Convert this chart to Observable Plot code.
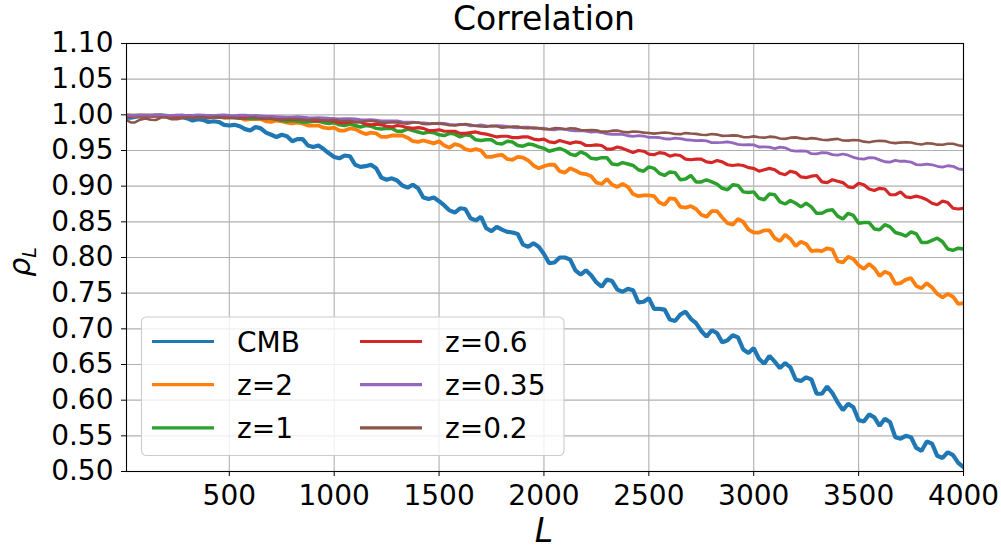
<!DOCTYPE html>
<html><head><meta charset="utf-8">
<script src="https://cdn.jsdelivr.net/npm/d3@7"></script>
<script src="https://cdn.jsdelivr.net/npm/@observablehq/plot@0.6"></script>
<style>
body{margin:0;background:#fff;}
#chart{width:1001px;height:550px;position:relative;}
</style>
</head><body><div id="chart"></div>
<script>
// Multipole L (sampled every 25)
const L = [10,30,50,75,100,125,150,175,200,225,250,275,300,325,350,375,400,425,450,475,
500,525,550,575,600,625,650,675,700,725,750,775,800,825,850,875,900,925,950,975,
1000,1025,1050,1075,1100,1125,1150,1175,1200,1225,1250,1275,1300,1325,1350,1375,1400,1425,1450,1475,
1500,1525,1550,1575,1600,1625,1650,1675,1700,1725,1750,1775,1800,1825,1850,1875,1900,1925,1950,1975,
2000,2025,2050,2075,2100,2125,2150,2175,2200,2225,2250,2275,2300,2325,2350,2375,2400,2425,2450,2475,
2500,2525,2550,2575,2600,2625,2650,2675,2700,2725,2750,2775,2800,2825,2850,2875,2900,2925,2950,2975,
3000,3025,3050,3075,3100,3125,3150,3175,3200,3225,3250,3275,3300,3325,3350,3375,3400,3425,3450,3475,
3500,3525,3550,3575,3600,3625,3650,3675,3700,3725,3750,3775,3800,3825,3850,3875,3900,3925,3950,3975,
4000];

const cmb = [.996,.996,.997,.998,.997,.998,.999,.999,.998,.997,.998,.997,.995,.992,.994,.993,.990,.991,.990,.986,
.985,.986,.984,.980,.978,.983,.981,.975,.972,.969,.972,.970,.963,.966,.966,.957,.955,.957,.952,.946,
.941,.939,.943,.942,.930,.927,.928,.930,.925,.912,.909,.911,.908,.901,.898,.902,.897,.884,.882,.884,
.879,.873,.866,.863,.869,.868,.855,.852,.857,.841,.837,.843,.839,.836,.835,.833,.818,.815,.820,.815,
.805,.792,.793,.800,.800,.797,.782,.776,.782,.775,.765,.759,.769,.767,.755,.752,.756,.754,.737,.738,
.743,.728,.728,.727,.713,.711,.720,.724,.714,.708,.697,.689,.698,.694,.681,.684,.691,.688,.671,.666,
.673,.658,.651,.662,.654,.645,.652,.646,.629,.627,.632,.629,.609,.609,.619,.610,.597,.586,.595,.590,
.572,.570,.580,.576,.564,.574,.569,.548,.546,.550,.548,.533,.529,.542,.539,.522,.519,.527,.523,.512,
.506];

const z2 = [.999,.999,.999,.999,.999,.999,.999,.999,.998,.998,.999,.998,.998,.998,.998,.998,.997,.997,.997,.996,
.996,.997,.996,.993,.994,.994,.994,.991,.990,.992,.991,.989,.988,.989,.988,.985,.985,.985,.982,.981,
.982,.978,.978,.981,.980,.976,.973,.975,.974,.969,.969,.971,.971,.971,.968,.963,.962,.964,.962,.960,
.963,.957,.954,.959,.957,.952,.950,.952,.950,.941,.941,.943,.944,.938,.937,.941,.940,.936,.929,.925,
.928,.930,.930,.921,.919,.925,.922,.918,.917,.914,.905,.903,.910,.902,.899,.903,.899,.889,.886,.887,
.887,.886,.877,.874,.883,.882,.871,.870,.872,.868,.860,.857,.865,.865,.856,.848,.846,.854,.850,.839,
.835,.835,.838,.838,.827,.823,.832,.826,.816,.822,.819,.809,.810,.809,.813,.811,.795,.793,.801,.798,
.789,.784,.791,.785,.774,.780,.777,.763,.764,.769,.771,.760,.757,.764,.758,.749,.744,.749,.745,.735,
.736];

const z1 = [.999,.999,.999,.999,.999,.999,.999,.999,.999,.998,.998,.997,.998,.998,.998,.998,.998,.998,.997,.997,
.997,.996,.996,.996,.995,.995,.996,.996,.995,.994,.992,.991,.992,.991,.990,.990,.991,.991,.989,.988,
.989,.986,.985,.987,.985,.983,.985,.984,.981,.980,.981,.981,.977,.977,.980,.978,.976,.974,.976,.975,
.972,.971,.974,.973,.969,.972,.971,.965,.964,.965,.965,.960,.959,.963,.962,.957,.956,.959,.958,.955,
.953,.949,.951,.953,.950,.945,.943,.948,.945,.939,.938,.940,.940,.931,.930,.933,.931,.929,.923,.921,
.927,.925,.918,.915,.920,.919,.909,.910,.915,.906,.906,.909,.906,.903,.897,.895,.902,.901,.892,.891,
.892,.883,.881,.889,.888,.878,.875,.880,.876,.871,.876,.871,.862,.862,.866,.867,.858,.854,.862,.859,
.848,.849,.849,.840,.839,.846,.843,.835,.833,.830,.836,.833,.821,.821,.824,.827,.822,.812,.810,.813,
.812];

const z06 = [.998,.998,.999,.999,.999,.999,.999,.999,.999,.998,.998,.999,.999,.999,.999,.999,.999,.997,.997,.998,
.998,.997,.997,.996,.997,.997,.996,.996,.997,.995,.994,.994,.994,.994,.994,.994,.992,.992,.993,.992,
.991,.989,.989,.990,.990,.990,.987,.986,.987,.986,.984,.983,.985,.984,.982,.981,.982,.981,.978,.978,
.979,.977,.977,.977,.974,.974,.975,.976,.974,.973,.971,.969,.970,.970,.968,.968,.969,.969,.966,.965,
.966,.962,.961,.964,.962,.960,.962,.961,.957,.957,.958,.957,.952,.952,.955,.953,.950,.947,.950,.949,
.945,.944,.947,.946,.942,.944,.943,.938,.937,.938,.938,.934,.933,.936,.934,.930,.929,.930,.929,.926,
.925,.921,.923,.925,.923,.918,.916,.921,.919,.913,.912,.914,.915,.906,.905,.909,.907,.905,.899,.898,
.904,.902,.896,.894,.897,.896,.888,.888,.892,.885,.884,.886,.884,.881,.876,.874,.879,.877,.869,.868,
.869];

const z035 = [1.000,.9994,.9991,.9998,.9996,.9994,.9999,.9998,.9992,.9993,.9997,.9998,.9990,.9992,.9999,.9997,.9993,.9990,.9997,.9998,
.9991,.9990,.9994,.9994,.9989,.9991,.9985,.9977,.9977,.9976,.9972,.9967,.9966,.9973,.9969,.9960,.9958,.9961,.9958,.9952,
.9948,.9943,.9945,.9947,.9942,.9934,.9928,.9931,.9924,.9916,.9914,.9916,.9915,.9901,.9896,.9897,.9891,.9888,.9880,.9878,
.9884,.9880,.9866,.9859,.9866,.9866,.9846,.9849,.9860,.9844,.9843,.9850,.9844,.9837,.9823,.9817,.9829,.9828,.9810,.9810,
.9813,.9796,.9790,.9804,.9798,.9781,.9774,.9780,.9771,.9759,.9764,.9752,.9732,.9728,.9730,.9727,.9707,.9699,.9710,.9703,
.9683,.9684,.9682,.9665,.9661,.9673,.9666,.9651,.9646,.9637,.9643,.9634,.9610,.9610,.9613,.9620,.9607,.9587,.9579,.9582,
.9579,.9549,.9551,.9548,.9526,.9546,.9538,.9502,.9491,.9495,.9492,.9455,.9454,.9471,.9466,.9443,.9435,.9451,.9434,.9405,
.9387,.9380,.9401,.9397,.9368,.9342,.9337,.9361,.9349,.9349,.9338,.9302,.9299,.9309,.9300,.9279,.9266,.9286,.9278,.9243,
.9233];

const z02 = [.9926,.9894,.9893,.9933,.9948,.9932,.9928,.9963,.9962,.9938,.9938,.9953,.9964,.9956,.9968,.9968,.9953,.9966,.9971,.9956,
.9958,.9957,.9945,.9947,.9962,.9963,.9944,.9943,.9950,.9932,.9929,.9942,.9942,.9937,.9926,.9922,.9935,.9932,.9912,.9920,
.9931,.9917,.9914,.9916,.9898,.9900,.9911,.9917,.9908,.9889,.9888,.9895,.9894,.9882,.9875,.9892,.9892,.9871,.9870,.9880,
.9877,.9867,.9854,.9851,.9862,.9870,.9860,.9844,.9837,.9833,.9845,.9839,.9818,.9825,.9836,.9836,.9816,.9813,.9821,.9814,
.9800,.9798,.9813,.9811,.9798,.9811,.9807,.9788,.9783,.9786,.9784,.9764,.9764,.9778,.9780,.9763,.9754,.9767,.9762,.9751,
.9745,.9737,.9745,.9752,.9745,.9731,.9729,.9744,.9738,.9733,.9721,.9717,.9731,.9723,.9705,.9707,.9712,.9708,.9688,.9686,
.9698,.9685,.9680,.9694,.9688,.9668,.9663,.9680,.9684,.9670,.9662,.9673,.9666,.9651,.9645,.9656,.9663,.9641,.9638,.9648,
.9644,.9624,.9616,.9630,.9636,.9632,.9612,.9603,.9611,.9615,.9613,.9594,.9584,.9601,.9597,.9582,.9581,.9594,.9594,.9575,
.9560];

const seriesNames = ["CMB", "z=2", "z=1", "z=0.6", "z=0.35", "z=0.2"];
const seriesValues = [cmb, z2, z1, z06, z035, z02];
const seriesColors = ["#1f77b4", "#ff7f0e", "#2ca02c", "#d62728", "#9467bd", "#8c564b"];
const xTicks = [500, 1000, 1500, 2000, 2500, 3000, 3500, 4000];
const yTicks = [0.50, 0.55, 0.60, 0.65, 0.70, 0.75, 0.80, 0.85, 0.90, 0.95, 1.00, 1.05, 1.10];
const titleText = "Correlation";

const rows = seriesNames.map((name, k) => L.map((l, i) => ({L: l, rho: seriesValues[k][i], series: name})));
const lineWidths = [4.2, 3.8, 3.5, 3.2, 2.8, 2.6];

const FONT = "DejaVu Sans";
const chart = Plot.plot({
  width: 1001,
  height: 550,
  marginLeft: 126,
  marginRight: 38,
  marginTop: 43,
  marginBottom: 79,
  style: {fontFamily: FONT, fontSize: "28px", color: "black", background: "white"},
  x: {domain: [10, 4000]},
  y: {domain: [0.5, 1.1]},
  marks: [
    Plot.gridX(xTicks, {stroke: "#b0b0b0", strokeOpacity: 1, strokeWidth: 1.1}),
    Plot.gridY(yTicks, {stroke: "#b0b0b0", strokeOpacity: 1, strokeWidth: 1.1}),
    ...rows.map((r, k) => Plot.line(r, {x: "L", y: "rho", stroke: seriesColors[k], strokeWidth: lineWidths[k], strokeLinejoin: "miter", clip: true})),
    Plot.frame({stroke: "black", strokeWidth: 1.1}),
    Plot.axisX(xTicks, {tickSize: 5, tickPadding: 9, tickFormat: d => String(d), fontSize: 28, label: null}),
    Plot.axisY(yTicks, {tickSize: 5, tickPadding: 8, tickFormat: d => d.toFixed(2), fontSize: 28, label: null})
  ]
});
document.getElementById("chart").appendChild(chart);

const svg = d3.select(chart);
// Title
svg.append("text").attr("x", 544).attr("y", 30).attr("text-anchor", "middle")
  .attr("font-family", FONT).attr("font-size", 33).attr("fill", "black").text(titleText);
// X label
svg.append("text").attr("x", 544).attr("y", 542).attr("text-anchor", "middle")
  .attr("font-family", FONT).attr("font-size", 33).attr("font-style", "italic").attr("fill", "black").text("L");
// Y label rho_L
const yl = svg.append("text").attr("transform", "translate(30,262) rotate(-90)").attr("text-anchor", "middle")
  .attr("font-family", FONT).attr("font-style", "italic").attr("fill", "black");
yl.append("tspan").attr("font-size", 30).text("ρ");
yl.append("tspan").attr("font-size", 19).attr("dy", 6).text("L");

// Legend
const lg = svg.append("g");
lg.append("rect").attr("x", 141.5).attr("y", 317).attr("width", 422.5).attr("height", 138.5).attr("rx", 5)
  .attr("fill", "white").attr("fill-opacity", 0.8).attr("stroke", "#cccccc").attr("stroke-width", 1.1);
seriesNames.forEach((name, i) => {
  const col = Math.floor(i / 3), row = i % 3;
  const x0 = col ? 360 : 152;
  const y0 = 341.5 + row * 43.2;
  lg.append("line").attr("x1", x0).attr("x2", x0 + 62).attr("y1", y0).attr("y2", y0)
    .attr("stroke", seriesColors[i]).attr("stroke-width", 3.2);
  lg.append("text").attr("x", x0 + 85).attr("y", y0).attr("dy", "0.36em").attr("text-anchor", "start")
    .attr("font-family", FONT).attr("font-size", 28).attr("fill", "black").text(name);
});
</script>
</body></html>
